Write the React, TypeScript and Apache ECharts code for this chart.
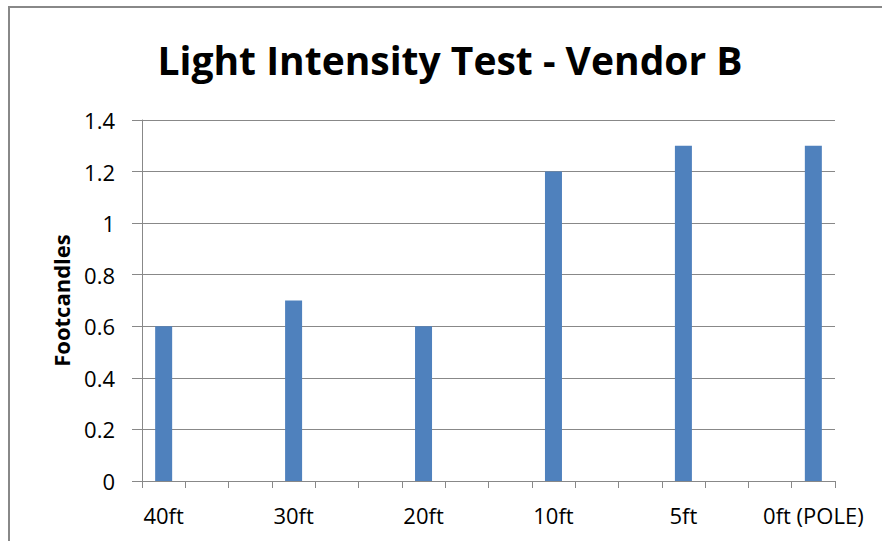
import React, { useEffect, useRef } from "react";
import * as echarts from "echarts";

const titleText = "Light Intensity Test - Vendor B";
const yAxisName = "Footcandles";
const categories = [
  "40ft", "", "", "30ft", "", "", "20ft", "", "", "10ft", "", "", "5ft", "", "", "0ft (POLE)",
];
const values: (number | null)[] = [
  0.6, null, null, 0.7, null, null, 0.6, null, null, 1.2, null, null, 1.3, null, null, 1.3,
];
const yMin = 0;
const yMax = 1.4;
const yStep = 0.2;

export default function App() {
  const ref = useRef<HTMLDivElement>(null);
  useEffect(() => {
    if (!ref.current) return;
    const chart = echarts.init(ref.current, undefined, { renderer: "svg" });
    const font = "'Open Sans', sans-serif";
    chart.setOption({
      animation: false,
      backgroundColor: "#ffffff",
      graphic: [
        {
          type: "rect",
          shape: { x: 9, y: 7, width: 1000, height: 1000 },
          style: { fill: "none", stroke: "#888888", lineWidth: 2 },
          silent: true,
        },
        {
          type: "text",
          x: 450,
          y: 59,
          style: {
            text: titleText,
            font: `bold 39px ${font}`,
            fill: "#000000",
            align: "center",
            verticalAlign: "middle",
          },
        },
      ],
      grid: { left: 142, right: 47, top: 120, bottom: 60, containLabel: false },
      xAxis: {
        type: "category",
        data: categories,
        axisLine: { show: true, lineStyle: { color: "#888888", width: 1 } },
        axisTick: { show: true, interval: 0, length: 7, alignWithLabel: false, lineStyle: { color: "#888888" } },
        axisLabel: {
          interval: 2,
          color: "#000000",
          fontFamily: font,
          fontSize: 22,
          margin: 23,
        },
        splitLine: { show: false },
      },
      yAxis: {
        type: "value",
        min: yMin,
        max: yMax,
        interval: yStep,
        name: yAxisName,
        nameLocation: "middle",
        nameRotate: 90,
        nameGap: 70,
        nameTextStyle: { fontFamily: font, fontSize: 22, fontWeight: "bold", color: "#000000" },
        axisLine: { show: true, lineStyle: { color: "#888888", width: 1 } },
        axisTick: { show: true, length: 10, inside: false, lineStyle: { color: "#888888" } },
        axisLabel: {
          color: "#000000",
          fontFamily: font,
          fontSize: 22,
          margin: 27,
          formatter: (v: number) => String(Math.round(v * 10) / 10),
        },
        splitLine: { show: true, lineStyle: { color: "#888888", width: 1 } },
      },
      series: [
        {
          type: "bar",
          data: values,
          barWidth: 17,
          itemStyle: { color: "#4F81BD" },
        },
      ],
    });
    return () => chart.dispose();
  }, []);
  return (
    <div
      ref={ref}
      style={{ position: "absolute", left: 0, top: 0, width: 882, height: 541 }}
    />
  );
}
